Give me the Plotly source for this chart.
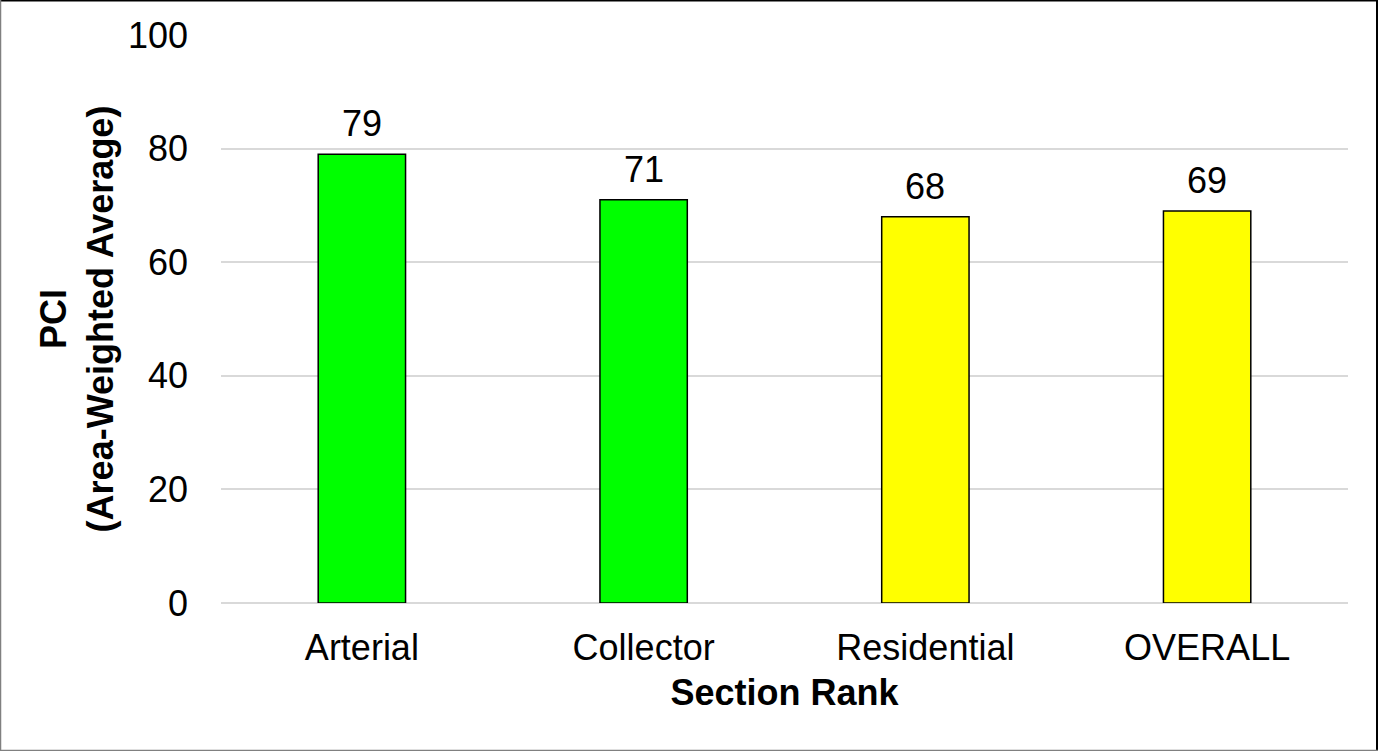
import plotly.graph_objects as go

# Section ranks and their area-weighted PCI
categories = ["Arterial", "Collector", "Residential", "OVERALL"]
pci_values = [79, 71, 68, 69]
bar_colors = ["#00FF00", "#00FF00", "#FFFF00", "#FFFF00"]

y_ticks = [0, 20, 40, 60, 80, 100]

FONT = "Liberation Sans, Arial, sans-serif"
FS = 36

fig = go.Figure(
    go.Bar(
        x=categories,
        y=pci_values,
        marker=dict(color=bar_colors, line=dict(color="#000000", width=1.5)),
        cliponaxis=False,
    )
)

# value labels above each bar
for cat, val in zip(categories, pci_values):
    fig.add_annotation(
        x=cat, y=val, text=str(val), showarrow=False,
        yanchor="bottom", yshift=8,
        font=dict(family=FONT, size=FS, color="#000000"),
    )

fig.update_layout(
    width=1378,
    height=751,
    margin=dict(l=221, r=30, t=35, b=148),
    paper_bgcolor="#FFFFFF",
    plot_bgcolor="#FFFFFF",
    bargap=0.69,
    showlegend=False,
    font=dict(family=FONT, size=FS, color="#000000"),
    xaxis=dict(
        showgrid=False,
        showline=False,
        ticks="",
        tickfont=dict(family=FONT, size=FS),
        ticklabelstandoff=20,
        title=dict(text="<b>Section Rank</b>", font=dict(family=FONT, size=FS), standoff=12),
    ),
    yaxis=dict(
        range=[0, 100],
        tickvals=y_ticks,
        showgrid=True,
        gridcolor="#D9D9D9",
        gridwidth=1.5,
        zeroline=True,
        zerolinecolor="#D9D9D9",
        zerolinewidth=1.5,
        showline=False,
        ticks="",
        tickfont=dict(family=FONT, size=FS),
        ticklabelstandoff=32,
        title=dict(
            text="<b>PCI<br>(Area-Weighted Average)</b>",
            font=dict(family=FONT, size=FS),
            standoff=3,
        ),
    ),
    shapes=[
        # outer frame: dark top/right, grey left/bottom
        dict(type="line", xref="paper", yref="paper", x0=-221/1127, x1=1+30/1127,
             y0=1+35/568, y1=1+35/568, line=dict(color="#000000", width=3)),
        dict(type="line", xref="paper", yref="paper", x0=1+29/1127, x1=1+29/1127,
             y0=-148/568, y1=1+35/568, line=dict(color="#000000", width=2)),
        dict(type="line", xref="paper", yref="paper", x0=-220.5/1127, x1=-220.5/1127,
             y0=-148/568, y1=1+35/568, line=dict(color="#808080", width=1.5)),
        dict(type="line", xref="paper", yref="paper", x0=-221/1127, x1=1+30/1127,
             y0=-147.5/568, y1=-147.5/568, line=dict(color="#808080", width=1.5)),
    ],
)

fig.write_html("out.html")
